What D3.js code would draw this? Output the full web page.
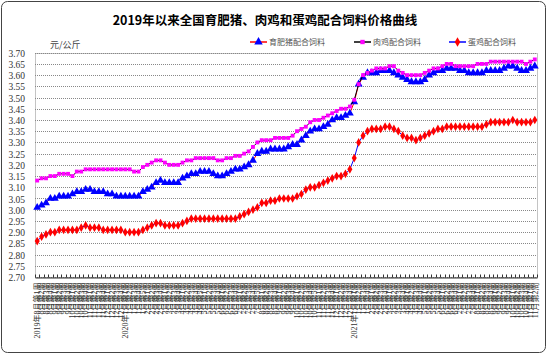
<!DOCTYPE html>
<html><head><meta charset="utf-8">
<script src="https://cdn.jsdelivr.net/npm/d3@7"></script>
<style>
html,body{margin:0;padding:0;background:#fff;}
svg{display:block;}
</style></head>
<body>
<svg id="c" width="548" height="355"></svg>
<script>
const title = "2019年以来全国育肥猪、肉鸡和蛋鸡配合饲料价格曲线";
const unitLabel = "元/公斤";
const seriesNames = ["育肥猪配合饲料", "肉鸡配合饲料", "蛋鸡配合饲料"];
const yTicks = [2.70,2.75,2.80,2.85,2.90,2.95,3.00,3.05,3.10,3.15,3.20,3.25,3.30,3.35,3.40,3.45,3.50,3.55,3.60,3.65,3.70];

const weekLabels = [
"2019年8月第1周","8月第2周","8月第3周","8月第4周",
"9月第1周","9月第2周","9月第3周","9月第4周",
"10月第1周","10月第2周","10月第3周","10月第4周",
"11月第1周","11月第2周","11月第3周","11月第4周",
"12月第1周","12月第2周","12月第3周","12月第4周",
"2020年1月第1周","1月第2周","1月第3周","1月第4周","1月第5周",
"2月第1周","2月第2周","2月第3周","2月第4周",
"3月第1周","3月第2周","3月第3周","3月第4周",
"4月第1周","4月第2周","4月第3周","4月第4周","4月第5周",
"5月第1周","5月第2周","5月第3周","5月第4周",
"6月第1周","6月第2周","6月第3周","6月第4周",
"7月第1周","7月第2周","7月第3周","7月第4周","7月第5周",
"8月第1周","8月第2周","8月第3周","8月第4周",
"9月第1周","9月第2周","9月第3周","9月第4周",
"10月第1周","10月第2周","10月第3周","10月第4周","10月第5周",
"11月第1周","11月第2周","11月第3周","11月第4周",
"12月第1周","12月第2周","12月第3周","12月第4周",
"2021年1月第1周","1月第2周","1月第3周","1月第4周",
"2月第1周","2月第2周","2月第3周","2月第4周",
"3月第1周","3月第2周","3月第3周","3月第4周",
"4月第1周","4月第2周","4月第3周","4月第4周",
"5月第1周","5月第2周","5月第3周","5月第4周",
"6月第1周","6月第2周","6月第3周","6月第4周",
"7月第1周","7月第2周","7月第3周","7月第4周",
"8月第1周","8月第2周","8月第3周","8月第4周",
"9月第1周","9月第2周","9月第3周","9月第4周",
"10月第1周","10月第2周","10月第3周","10月第4周",
"11月第1周","11月第2周"
];

// 育肥猪配合饲料
const pigFeed = [
3.01,3.02,3.03,3.05,3.05,3.06,3.06,3.06,3.07,3.08,3.08,3.09,3.09,3.08,3.08,3.08,3.07,3.07,3.06,3.06,
3.06,3.06,3.06,3.06,3.08,3.09,3.10,3.12,3.13,3.12,3.12,3.12,3.12,3.14,3.15,3.16,3.16,3.17,3.17,3.17,
3.16,3.15,3.15,3.16,3.17,3.18,3.18,3.19,3.20,3.22,3.25,3.26,3.26,3.27,3.27,3.27,3.27,3.28,3.29,3.29,
3.31,3.33,3.35,3.36,3.36,3.37,3.38,3.40,3.41,3.41,3.42,3.43,3.48,3.56,3.59,3.61,3.61,3.61,3.62,3.62,
3.62,3.61,3.60,3.59,3.58,3.57,3.57,3.57,3.58,3.60,3.61,3.62,3.62,3.63,3.63,3.63,3.62,3.62,3.61,3.61,
3.61,3.61,3.62,3.62,3.62,3.62,3.63,3.64,3.64,3.63,3.62,3.62,3.63,3.64
];
// 肉鸡配合饲料
const broilerFeed = [
3.13,3.14,3.14,3.15,3.15,3.16,3.16,3.16,3.15,3.17,3.17,3.18,3.18,3.18,3.18,3.18,3.18,3.18,3.18,3.18,
3.18,3.18,3.17,3.17,3.19,3.20,3.21,3.22,3.22,3.21,3.20,3.20,3.20,3.21,3.22,3.22,3.23,3.23,3.23,3.23,
3.23,3.22,3.22,3.23,3.23,3.24,3.24,3.25,3.26,3.28,3.30,3.31,3.31,3.31,3.32,3.32,3.32,3.32,3.33,3.35,
3.36,3.37,3.39,3.40,3.40,3.41,3.42,3.43,3.44,3.45,3.45,3.46,3.49,3.56,3.60,3.61,3.62,3.63,3.63,3.63,
3.64,3.64,3.62,3.61,3.60,3.60,3.60,3.60,3.61,3.62,3.63,3.63,3.64,3.65,3.65,3.64,3.64,3.64,3.64,3.64,
3.65,3.65,3.65,3.66,3.66,3.66,3.66,3.66,3.66,3.66,3.66,3.65,3.66,3.67
];
// 蛋鸡配合饲料
const layerFeed = [
2.86,2.88,2.89,2.90,2.90,2.91,2.91,2.91,2.91,2.91,2.92,2.93,2.92,2.92,2.92,2.91,2.91,2.91,2.91,2.91,
2.90,2.90,2.90,2.90,2.91,2.92,2.93,2.94,2.94,2.93,2.93,2.93,2.93,2.94,2.95,2.96,2.96,2.96,2.96,2.96,
2.96,2.96,2.96,2.96,2.96,2.96,2.97,2.98,2.99,3.00,3.01,3.03,3.03,3.04,3.04,3.05,3.05,3.05,3.05,3.06,
3.07,3.09,3.10,3.10,3.11,3.12,3.13,3.14,3.15,3.15,3.16,3.18,3.23,3.30,3.33,3.35,3.36,3.36,3.36,3.37,
3.37,3.36,3.35,3.33,3.32,3.32,3.31,3.32,3.33,3.34,3.35,3.36,3.36,3.37,3.37,3.37,3.37,3.37,3.37,3.37,
3.37,3.37,3.38,3.39,3.39,3.39,3.39,3.39,3.40,3.39,3.39,3.39,3.39,3.40
];

const svg = d3.select("#c");
const W = 548, H = 355;
const plot = {left: 35, right: 537, top: 52.7, bottom: 277};

// outer frame
svg.append("rect").attr("x",1.5).attr("y",1.5).attr("width",W-4).attr("height",H-4)
  .attr("rx",6).attr("fill","#fff").attr("stroke","#444").attr("stroke-width",1);

// title
svg.append("text").attr("x",265).attr("y",25).attr("text-anchor","middle")
  .attr("font-family","'Noto Sans CJK SC', sans-serif").attr("font-weight","bold")
  .attr("font-size",12.5).attr("fill","#000").text(title);

const idx = weekLabels.map((d,i)=>i);
const x = d3.scaleBand().domain(idx).range([plot.left, plot.right]);
const y = d3.scaleLinear().domain([2.70, 3.70]).range([plot.bottom, plot.top]);
const cx = i => x(i) + x.bandwidth()/2;

// gridlines
svg.append("g").selectAll("line").data(yTicks).join("line")
  .attr("x1",plot.left).attr("x2",plot.right)
  .attr("y1",d=>Math.round(y(d))+0.5).attr("y2",d=>Math.round(y(d))+0.5)
  .attr("stroke","#888").attr("stroke-width",1).attr("stroke-dasharray","1,1");
// plot border
svg.append("rect").attr("x",plot.left+0.5).attr("y",Math.round(plot.top)+0.5)
  .attr("width",plot.right-plot.left).attr("height",Math.round(plot.bottom)-Math.round(plot.top))
  .attr("fill","none").attr("stroke","#888").attr("stroke-dasharray","1,1");

// y axis
const yAxis = d3.axisLeft(y).tickValues(yTicks).tickFormat(d3.format(".2f")).tickSize(0).tickPadding(10);
const gy = svg.append("g").attr("transform",`translate(${plot.left},0.5)`).call(yAxis);
gy.select(".domain").remove();
gy.selectAll("text").attr("font-family","'Liberation Serif', serif").attr("font-size",9.5).attr("fill","#333");

// x axis
const xAxis = d3.axisBottom(x).tickSize(0).tickPadding(0).tickFormat(i => weekLabels[i]);
const gx = svg.append("g").attr("transform",`translate(0,${Math.round(plot.bottom)+0.5})`).call(xAxis);
gx.select(".domain").attr("stroke","#333");
gx.selectAll(".tick text")
  .attr("font-family","'Liberation Serif', 'Noto Sans CJK SC', serif").attr("font-size",8)
  .attr("fill","#333")
  .attr("text-anchor","end").attr("transform","rotate(-90)")
  .attr("x",-5).attr("y",0).attr("dy","0.35em");
// tick marks between categories
gx.append("g").selectAll("line").data(idx.concat([idx.length])).join("line")
  .attr("x1",i=>Math.round(plot.left + i*x.step())+0.5)
  .attr("x2",i=>Math.round(plot.left + i*x.step())+0.5)
  .attr("y1",-3).attr("y2",0).attr("stroke","#333");

// unit
svg.append("text").attr("x",50).attr("y",48).attr("font-family","'Noto Sans CJK SC', sans-serif")
  .attr("font-size",9).attr("fill","#444").text(unitLabel);

// series
const series = [
  {name: seriesNames[0], values: pigFeed, line: "#ff0000", marker: "#0000ff", symbol: d3.symbolTriangle, size: 27},
  {name: seriesNames[1], values: broilerFeed, line: "#000000", marker: "#ff00ff", symbol: d3.symbolSquare, size: 15},
  {name: seriesNames[2], values: layerFeed, line: "#0000ff", marker: "#ff0000", symbol: d3.symbolDiamond, size: 22}
];
const line = d3.line().x((d,i)=>cx(i)).y(d=>y(d));
series.forEach(s => {
  const g = svg.append("g");
  g.append("path").attr("d", line(s.values)).attr("fill","none").attr("stroke",s.line).attr("stroke-width",1);
  g.selectAll("path.m").data(s.values).join("path").attr("class","m")
    .attr("d", d3.symbol().type(s.symbol).size(s.size))
    .attr("transform",(d,i)=>`translate(${cx(i)},${y(d)})`)
    .attr("fill",s.marker);
});

// legend
const legendX = [250, 354, 449];
series.forEach((s,k) => {
  const g = svg.append("g").attr("transform",`translate(${legendX[k]},42)`);
  g.append("line").attr("x1",0).attr("x2",17).attr("y1",0).attr("y2",0).attr("stroke",s.line).attr("stroke-width",1.5);
  g.append("path").attr("d",d3.symbol().type(s.symbol).size(s.size+4)).attr("transform","translate(8.5,0)").attr("fill",s.marker);
  g.append("text").attr("x",19).attr("y",0).attr("dy","0.35em")
    .attr("font-family","'Noto Sans CJK SC', sans-serif").attr("font-size",8).attr("fill","#555").text(s.name);
});
</script>
</body></html>
